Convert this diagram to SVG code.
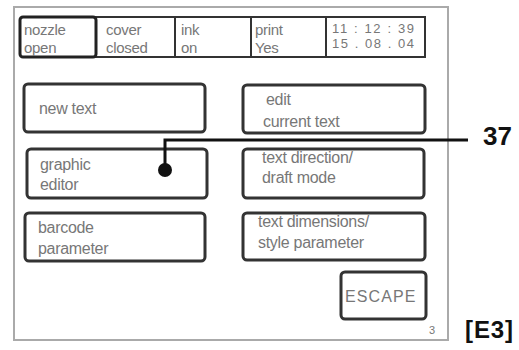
<svg xmlns="http://www.w3.org/2000/svg" width="519" height="350" viewBox="0 0 519 350">
<style>
.t{font-family:"Liberation Sans",Arial,sans-serif;font-size:15px;fill:#777;letter-spacing:-0.3px}
.b{font-size:16px}
.btn{fill:#fff;stroke:#333;stroke-width:3}
.cell{fill:#fff;stroke:#333;stroke-width:2}
.lbl{font-family:"Liberation Sans",Arial,sans-serif;font-weight:bold;fill:#111}
.tm{font-family:"Liberation Sans",Arial,sans-serif;font-size:13px;fill:#777}
</style>
<rect width="519" height="350" fill="#fff"/>
<g id="frame"><rect x="14" y="7" width="434" height="333" fill="none" stroke="#aaa" stroke-width="2"/></g>
<g id="status">
<rect class="cell" x="96" y="17" width="230" height="40"/>
<line x1="175" y1="17" x2="175" y2="57" stroke="#333" stroke-width="2"/>
<line x1="251" y1="17" x2="251" y2="57" stroke="#333" stroke-width="2"/>
<rect class="cell" x="326" y="17" width="99" height="40"/>
<rect x="20" y="17" width="76" height="40" rx="3" fill="#fff" stroke="#222" stroke-width="3"/>
<text class="t" x="24" y="35">nozzle</text><text class="t" x="24" y="53">open</text>
<text class="t" x="106" y="35">cover</text><text class="t" x="106" y="53">closed</text>
<text class="t" x="181" y="35">ink</text><text class="t" x="181" y="53">on</text>
<text class="t" x="255" y="35">print</text><text class="t" x="255" y="53">Yes</text>
<text class="tm" x="332" y="33" textLength="82" lengthAdjust="spacing">11 : 12 : 39</text>
<text class="tm" x="332" y="48" textLength="82" lengthAdjust="spacing">15 . 08 . 04</text>
</g>
<g id="new-text"><rect class="btn" x="24" y="84" width="181" height="48" rx="4"/><text class="t b" x="39" y="114">new text</text></g>
<g id="edit-current-text"><rect class="btn" x="243" y="85" width="182" height="48" rx="4"/><text class="t b" x="266" y="105">edit</text><text class="t b" x="263" y="127">current text</text></g>
<g id="graphic-editor"><rect class="btn" x="27" y="149" width="180" height="49" rx="4"/><text class="t b" x="40" y="170">graphic</text><text class="t b" x="40" y="190">editor</text></g>
<g id="text-direction"><rect class="btn" x="243" y="149" width="181" height="49" rx="4"/><text class="t b" x="262" y="163">text direction/</text><text class="t b" x="262" y="183">draft mode</text></g>
<g id="barcode"><rect class="btn" x="25" y="213" width="180" height="48" rx="4"/><text class="t b" x="38" y="233">barcode</text><text class="t b" x="38" y="254">parameter</text></g>
<g id="text-dimensions"><rect class="btn" x="243" y="213" width="182" height="47" rx="4"/><text class="t b" x="258" y="227">text dimensions/</text><text class="t b" x="258" y="248">style parameter</text></g>
<g id="escape"><rect class="btn" x="341" y="272" width="85" height="47" rx="4"/><text class="t b" x="345" y="302" textLength="70">ESCAPE</text></g>
<text class="t" x="429" y="334" style="font-size:11px">3</text>
<g id="connectors">
<polyline points="165,170 165,140 468,140" fill="none" stroke="#111" stroke-width="3"/>
<circle cx="165" cy="170" r="7" fill="#111"/>
</g>
<text class="lbl" x="483" y="145" font-size="26" textLength="29">37</text>
<text class="lbl" x="465" y="338" font-size="24" textLength="48">[E3]</text>
</svg>
